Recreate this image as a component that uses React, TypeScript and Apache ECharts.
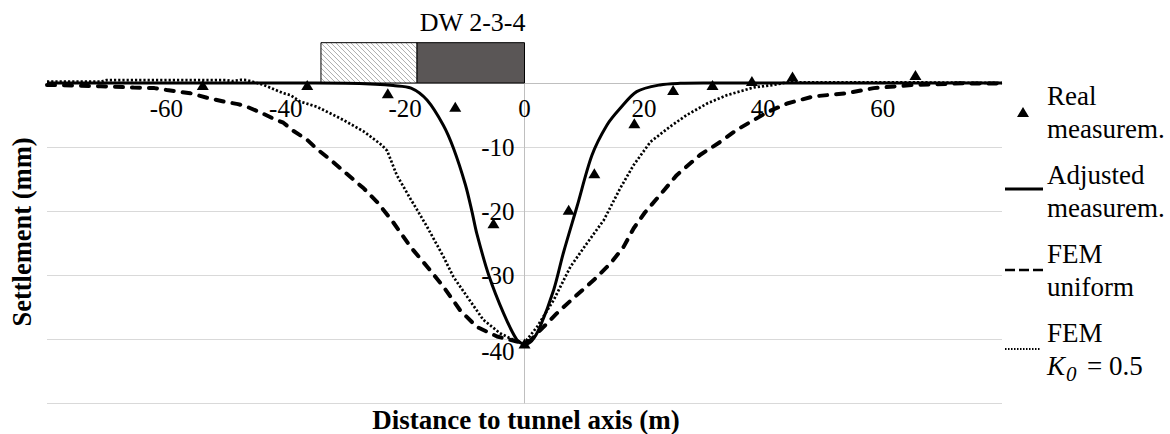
import React, { useEffect, useRef } from 'react';
import * as echarts from 'echarts';

// ---------- data ----------
const realX = [-53.9, -36.4, -22.9, -11.6, -5.2, 0, 7.4, 11.7, 18.4, 24.9, 31.5, 38.1, 44.9, 65.5];
const realY = [-0.3, -0.3, -1.6, -3.7, -21.9, -40.7, -19.8, -14.1, -6.3, -1.1, -0.3, 0.3, 1.0, 1.25];

const adjX = [-80, -40, -30, -25, -22, -19, -16.3, -13.6, -11.9, -9.9, -8.8, -8.0, -6.0, -3.5, -1.3, 0, 1.2, 2.6, 4.9, 6.5, 8.8, 11.3, 13.8, 16.0, 18.8, 22.7, 26.1, 30, 80];
const adjY = [0, 0, -0.05, -0.2, -0.4, -0.8, -2.7, -6.6, -10.2, -15.9, -20.1, -23.5, -30.0, -36.0, -40.1, -40.8, -40.3, -38.1, -32.3, -26.6, -19.3, -11.3, -6.6, -4.0, -1.35, -0.3, -0.05, 0, 0];

const femUX = [-80, -71, -65.5, -62, -59.9, -56, -53.2, -50.4, -48, -46.5, -44, -42, -40.4, -38.7, -36.5, -34.8, -32.5, -30.9, -26.9, -24.5, -22.2, -19.1, -16.3, -13.6, -10.8, -8.0, -4.6, -1.3, 0, 1.0, 3.2, 5.4, 8.2, 11.6, 14.4, 16.6, 18.3, 20.2, 22.7, 25.5, 29.4, 32.8, 35.6, 38.4, 40.8, 44.0, 48.4, 54.0, 58.5, 65.2, 73.6, 80];
const femUY = [-0.3, -0.5, -0.7, -0.8, -1.1, -1.6, -2.3, -2.9, -3.3, -3.7, -4.7, -5.6, -6.2, -7.5, -8.8, -10.3, -12.0, -13.3, -16.5, -18.8, -21.5, -25.6, -28.7, -31.8, -35.5, -38.1, -39.6, -40.4, -40.6, -40.2, -38.1, -36.0, -33.6, -30.8, -28.2, -25.6, -22.7, -20.2, -17.5, -14.4, -11.25, -9.2, -7.3, -5.8, -4.5, -3.2, -2.1, -1.6, -0.8, -0.3, -0.05, -0.1];

const femKX = [-80, -71, -70, -55, -50, -49, -47.5, -46.5, -44.8, -43.7, -40.4, -39.2, -37.6, -34.8, -32, -30.3, -26.9, -23.9, -23.0, -21.4, -19.1, -17.5, -16.3, -13.6, -11.9, -9.6, -6.9, -4.1, -1.3, 0, 2.1, 4.9, 7.7, 10.5, 13.3, 16.0, 18.3, 21.1, 24.4, 27.2, 30.6, 33.9, 38.4, 41.7, 44, 65, 80];
const femKY = [0.2, 0.2, 0.45, 0.45, 0.45, 0.3, 0.5, 0.45, 0.0, -0.3, -1.6, -1.9, -2.9, -3.7, -5.0, -5.8, -7.6, -9.7, -10.6, -14.4, -18.1, -20.6, -22.5, -27.1, -30.3, -33.4, -37.0, -39.1, -40.4, -40.6, -38.1, -33.9, -28.7, -25.0, -21.4, -16.5, -12.8, -9.2, -6.8, -5.0, -3.2, -1.9, -0.7, -0.3, 0.1, 0.1, 0];

// DW 2-3-4 box (x from, x to, height in mm)
const dwStart = [-34.1, -18.0];
const dwEnd = [-18.0, 0];
const dwHeight = 6.3;
const dwLabel = 'DW 2-3-4';

const xTicks = { min: -80, max: 80, step: 20 };
const yTicks = { min: -50, max: 0, step: 10 };

const legendNames = [
  ['Real', 'measurem.'],
  ['Adjusted', 'measurem.'],
  ['FEM', 'uniform'],
  ['FEM', 'K0 = 0.5'],
];

const FONT = 'Liberation Serif';

function zip(a: number[], b: number[]) {
  return a.map((v, i) => [v, b[i]]);
}

const W = 1170, H = 434;
const GRID = { left: 47, right: 168, top: 83, bottom: 31 };

export default function App() {
  const ref = useRef<HTMLDivElement>(null);
  useEffect(() => {
    const chart = echarts.init(ref.current!, undefined, { renderer: 'svg' });

    const dwData = dwStart.map((s, i) => [s, dwEnd[i], dwHeight, i]);

    const plotW = W - GRID.left - GRID.right;
    const plotH = H - GRID.top - GRID.bottom;
    // offsets that move the axes to the zero lines
    const yAxisOffset = -((0 - xTicks.min) / (xTicks.max - xTicks.min)) * plotW;
    const xAxisOffset = -((0 - yTicks.min) / (yTicks.max - yTicks.min)) * plotH;

    const renderBox = (params: any, api: any) => {
      const x0 = api.value(0), x1 = api.value(1), top = api.value(2), kind = api.value(3);
      const p0 = api.coord([x0, top]);
      const p1 = api.coord([x1, 0]);
      const L = p0[0], T = p0[1], R = p1[0], B = p1[1];
      const children: any[] = [];
      if (kind === 0) {
        children.push({ type: 'rect', shape: { x: L, y: T, width: R - L, height: B - T }, style: { fill: '#ffffff' } });
        const s = 5;
        for (let k = L - B; k <= R - T; k += s) {
          const xs = Math.max(L, T + k);
          const xe = Math.min(R, B + k);
          if (xe > xs) {
            children.push({ type: 'line', shape: { x1: xs, y1: xs - k, x2: xe, y2: xe - k }, style: { stroke: '#9a9a9a', lineWidth: 0.8 } });
          }
        }
        children.push({ type: 'rect', shape: { x: L, y: T, width: R - L, height: B - T }, style: { fill: 'none', stroke: '#000', lineWidth: 1 } });
      } else {
        children.push({ type: 'rect', shape: { x: L, y: T, width: R - L, height: B - T }, style: { fill: '#5a5656', stroke: '#000', lineWidth: 1 } });
        children.push({ type: 'text', x: R + 1, y: T - 20, style: { text: dwLabel, align: 'right', verticalAlign: 'middle', fontFamily: FONT, fontSize: 26, fill: '#000' } });
      }
      return { type: 'group', children };
    };

    const legendX = 1047;
    const centers = [112, 191, 270, 349];
    const LFS = 27;
    const tStyle = (text: string) => ({ text, fontFamily: FONT, fontSize: LFS, fill: '#000', verticalAlign: 'middle', align: 'left' });
    const graphics: any[] = [];
    legendNames.forEach((pair, i) => {
      const c = centers[i];
      graphics.push({ type: 'text', x: legendX, y: c - 16.5, style: tStyle(pair[0]) });
      if (i < 3) {
        graphics.push({ type: 'text', x: legendX, y: c + 16.5, style: tStyle(pair[1]) });
      } else {
        graphics.push({ type: 'text', x: legendX, y: c + 16.5, style: { ...tStyle('K'), fontStyle: 'italic' } });
        graphics.push({ type: 'text', x: legendX + 19, y: c + 25, style: { ...tStyle('0'), fontStyle: 'italic', fontSize: 21 } });
        graphics.push({ type: 'text', x: legendX + 40, y: c + 16.5, style: tStyle('= 0.5') });
      }
    });
    graphics.push({ type: 'polygon', shape: { points: [[1023, centers[0] - 5], [1017, centers[0] + 5], [1029, centers[0] + 5]] }, style: { fill: '#000' } });
    graphics.push({ type: 'line', shape: { x1: 1005, y1: centers[1] - 2, x2: 1043, y2: centers[1] - 2 }, style: { stroke: '#000', lineWidth: 3 } });
    graphics.push({ type: 'line', shape: { x1: 1005, y1: centers[2], x2: 1043, y2: centers[2] }, style: { stroke: '#000', lineWidth: 2.5, lineDash: [10, 4] } });
    graphics.push({ type: 'line', shape: { x1: 1005, y1: centers[3], x2: 1040, y2: centers[3] }, style: { stroke: '#000', lineWidth: 2, lineDash: [1.5, 1.5] } });
    // axis titles
    graphics.push({ type: 'text', x: 22, y: 232, rotation: Math.PI / 2, style: { text: 'Settlement (mm)', fontFamily: FONT, fontSize: 26.5, fontWeight: 'bold', fill: '#000', align: 'center', verticalAlign: 'middle' } });
    graphics.push({ type: 'text', x: 526, y: 420, style: { text: 'Distance to tunnel axis (m)', fontFamily: FONT, fontSize: 27, fontWeight: 'bold', fill: '#000', align: 'center', verticalAlign: 'middle' } });

    const option: any = {
      animation: false,
      backgroundColor: '#ffffff',
      textStyle: { fontFamily: FONT },
      grid: { ...GRID, containLabel: false },
      xAxis: {
        type: 'value', min: xTicks.min, max: xTicks.max, interval: xTicks.step,
        position: 'bottom', offset: xAxisOffset,
        axisLine: { show: true, onZero: false, lineStyle: { color: '#bfbfbf', width: 1 } },
        axisTick: { show: false },
        splitLine: { show: false },
        axisLabel: { showMinLabel: false, showMaxLabel: false, fontFamily: FONT, fontSize: 25, color: '#000', margin: 13 },
      },
      yAxis: {
        type: 'value', min: yTicks.min, max: yTicks.max, interval: yTicks.step,
        position: 'left', offset: yAxisOffset,
        axisLine: { show: true, onZero: false, lineStyle: { color: '#bfbfbf', width: 1 } },
        axisTick: { show: false },
        splitLine: { show: true, lineStyle: { color: '#d9d9d9', width: 1 } },
        axisLabel: {
          fontFamily: FONT, fontSize: 25, color: '#000', margin: 10,
          formatter: (v: number) => (v === 0 || v === -50 ? '' : v === -40 ? '{low|-40}' : String(v)),
          rich: { low: { fontFamily: FONT, fontSize: 25, color: '#000', padding: [24, 0, 0, 0] } },
        },
      },
      series: [
        {
          type: 'custom', renderItem: renderBox, data: dwData, clip: false, z: 1,
          encode: { x: [0, 1], y: 2 }, silent: true,
        },
        {
          name: 'FEM uniform', type: 'line', data: zip(femUX, femUY), showSymbol: false, z: 3, clip: false,
          lineStyle: { color: '#000', width: 4, type: [8, 9], cap: 'round' },
        },
        {
          name: 'FEM K0 = 0.5', type: 'line', data: zip(femKX, femKY), showSymbol: false, z: 3, clip: false,
          lineStyle: { color: '#000', width: 2.7, type: [2.2, 2] },
        },
        {
          name: 'Adjusted measurem.', type: 'line', data: zip(adjX, adjY), showSymbol: false, smooth: 0.3, z: 4, clip: false,
          lineStyle: { color: '#000', width: 3 },
        },
        {
          name: 'Real measurem.', type: 'scatter', data: zip(realX, realY), symbol: 'triangle', symbolSize: [12, 10], z: 5, clip: false,
          itemStyle: { color: '#000', opacity: 1 },
        },
      ],
      graphic: graphics,
    };
    chart.setOption(option);
    return () => chart.dispose();
  }, []);
  return <div ref={ref} style={{ position: 'absolute', left: 0, top: 0, width: W, height: H }} />;
}
